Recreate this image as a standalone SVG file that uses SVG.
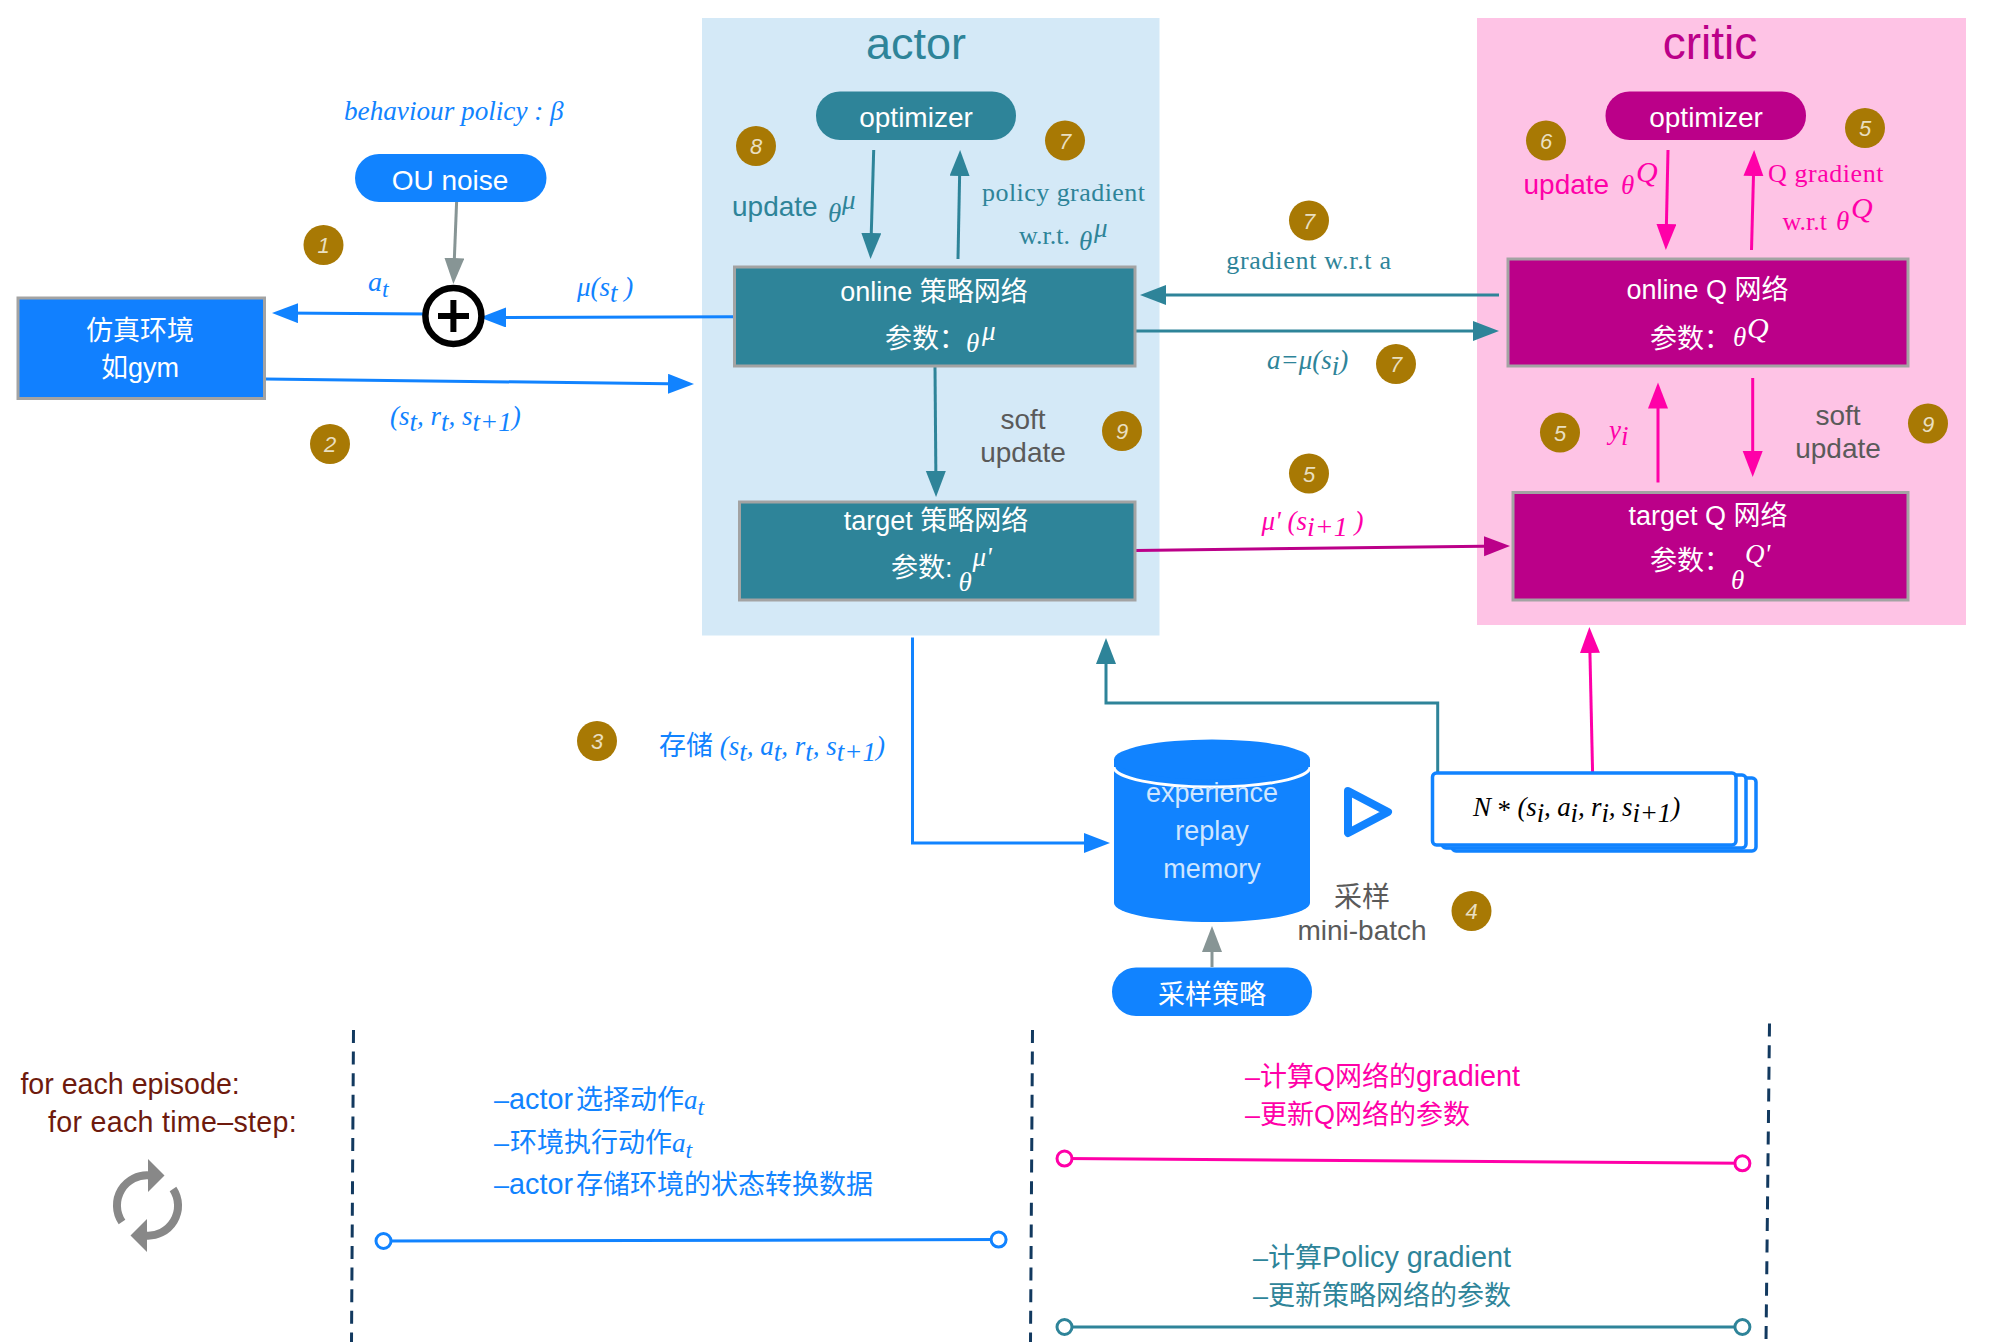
<svg xmlns="http://www.w3.org/2000/svg" width="2012" height="1342" viewBox="0 0 2012 1342">
<style>
text{font-family:"Liberation Sans","Noto Sans CJK SC",sans-serif;font-size:27px}
.m{font-family:"Liberation Serif","Noto Sans CJK SC",serif;font-style:italic;font-size:27px}
.s{font-family:"Liberation Serif","Noto Sans CJK SC",serif;font-size:26px}
.c{text-anchor:middle}
.w{fill:#fff}
.u{font-size:28px}
.la{font-size:28.8px}
.bl{fill:#1183ff}.te{fill:#2e8499}.pk{fill:#ff00a8}.mg{fill:#bb0089}.gy{fill:#5a5a5a}.br{fill:#6e1a0d}
.l{fill:none;stroke-width:3}
.lb{stroke:#1183ff}.lt{stroke:#2e8499}.lp{stroke:#ff00a8}.lm{stroke:#bb0089}.lg{stroke:#879595}
.box{stroke:#a3a3a3;stroke-width:3}
.badge circle{fill:#a87904}
.badge text{fill:#e9dfc0;font-size:22px;font-style:italic;text-anchor:middle}
.dash{fill:none;stroke:#12395f;stroke-width:3;stroke-dasharray:13 8.6}
.dot{fill:#fff;stroke-width:3}
</style>
<defs>
<marker id="ab" markerUnits="userSpaceOnUse" markerWidth="28" markerHeight="22" refX="20" refY="10" orient="auto"><path d="M0 0L26 10L0 20Z" fill="#1183ff"/></marker>
<marker id="at" markerUnits="userSpaceOnUse" markerWidth="28" markerHeight="22" refX="20" refY="10" orient="auto"><path d="M0 0L26 10L0 20Z" fill="#2e8499"/></marker>
<marker id="ap" markerUnits="userSpaceOnUse" markerWidth="28" markerHeight="22" refX="20" refY="10" orient="auto"><path d="M0 0L26 10L0 20Z" fill="#ff00a8"/></marker>
<marker id="am" markerUnits="userSpaceOnUse" markerWidth="28" markerHeight="22" refX="20" refY="10" orient="auto"><path d="M0 0L26 10L0 20Z" fill="#bb0089"/></marker>
<marker id="ag" markerUnits="userSpaceOnUse" markerWidth="28" markerHeight="22" refX="20" refY="10" orient="auto"><path d="M0 0L26 10L0 20Z" fill="#879595"/></marker>
</defs>
<rect width="2012" height="1342" fill="#fff"/>
<g id="actor-panel"><rect x="702" y="18" width="457.5" height="617.5" fill="#d4e9f7"/><text class="c te" x="916" y="59" style="font-size:45px">actor</text></g>
<g id="critic-panel"><rect x="1477" y="18" width="489" height="607" fill="#fec3e5"/><text class="c mg" x="1710" y="59" style="font-size:46px">critic</text></g>

<g id="connectors">
<line class="l lg" x1="456.6" y1="202" x2="453.6" y2="278" marker-end="url(#ag)"/>
<line class="l lb" x1="430" y1="314" x2="278" y2="313" marker-end="url(#ab)"/>
<line class="l lb" x1="733.5" y1="316.7" x2="486" y2="317.5" marker-end="url(#ab)"/>
<line class="l lb" x1="265" y1="379" x2="688" y2="384" marker-end="url(#ab)"/>
<line class="l lt" x1="873.7" y1="150" x2="870.7" y2="253" marker-end="url(#at)"/>
<line class="l lt" x1="958" y1="259" x2="960" y2="156" marker-end="url(#at)"/>
<line class="l lt" x1="935" y1="367" x2="936" y2="491" marker-end="url(#at)"/>
<line class="l lt" x1="1499" y1="295" x2="1146" y2="295" marker-end="url(#at)"/>
<line class="l lt" x1="1136" y1="331" x2="1493" y2="331" marker-end="url(#at)"/>
<line class="l lp" x1="1668" y1="150" x2="1666" y2="244" marker-end="url(#ap)"/>
<line class="l lp" x1="1751.5" y1="250" x2="1754" y2="156" marker-end="url(#ap)"/>
<line class="l lp" x1="1658" y1="482.5" x2="1658" y2="388.5" marker-end="url(#ap)"/>
<line class="l lp" x1="1752.7" y1="378" x2="1752.7" y2="471" marker-end="url(#ap)"/>
<line class="l lm" x1="1136" y1="550.4" x2="1504" y2="546" marker-end="url(#am)"/>
<path class="l lb" d="M912.5 637.6V843H1104" marker-end="url(#ab)"/>
<path class="l lt" d="M1437.7 773V703H1106V644" marker-end="url(#at)"/>
<line class="l lp" x1="1592.6" y1="773" x2="1589.5" y2="633" marker-end="url(#ap)"/>
<line class="l lg" x1="1212" y1="967" x2="1212" y2="932" marker-end="url(#ag)"/>
</g>

<g id="env"><rect class="box" x="18" y="298" width="246.5" height="100.5" fill="#1180ff"/><text class="c w" x="140" y="340">仿真环境</text><text class="c w" x="140" y="377">如gym</text></g>
<g id="ou-noise"><rect x="355" y="154" width="191.5" height="48" rx="24" fill="#1183ff"/><text class="c w" x="450" y="190" style="font-size:28px">OU noise</text></g>
<g id="behaviour-label"><text class="m bl" x="344" y="120" style="font-size:27.2px">behaviour policy : β</text></g>
<g id="sum"><circle cx="453.4" cy="316" r="28" fill="#fff" stroke="#000" stroke-width="6.5"/><path d="M438 316H469M453.4 300V332" stroke="#000" stroke-width="6" fill="none"/></g>
<g id="labels-left">
<text class="m bl" x="368" y="290.6" style="font-size:28px">a<tspan dy="6" style="font-size:24px">t</tspan></text>
<text class="m bl" x="577" y="296">μ(s<tspan dy="6">t</tspan><tspan dy="-6"> )</tspan></text>
<text class="m bl" x="390" y="425">(s<tspan dy="6">t</tspan><tspan dy="-6">, r</tspan><tspan dy="6">t</tspan><tspan dy="-6">, s</tspan><tspan dy="6">t+1</tspan><tspan dy="-6">)</tspan></text>
<text class="m bl" x="659" y="755"><tspan style="font-style:normal">存储</tspan> (s<tspan dy="6">t</tspan><tspan dy="-6">, a</tspan><tspan dy="6">t</tspan><tspan dy="-6">, r</tspan><tspan dy="6">t</tspan><tspan dy="-6">, s</tspan><tspan dy="6">t+1</tspan><tspan dy="-6">)</tspan></text>
</g>

<g id="actor-optimizer"><rect x="816" y="91.5" width="200" height="48.5" rx="24" fill="#2e8499"/><text class="c w" x="916" y="127" style="font-size:28px">optimizer</text></g>
<g id="online-policy"><rect class="box" x="734.5" y="267" width="400.5" height="99" fill="#2e8499"/><text class="c w" x="934" y="301">online 策略网络</text><text class="w" x="885" y="348">参数：</text><text class="m w" x="966" y="352">θ</text><text class="m w" x="982" y="340">μ</text></g>
<g id="target-policy"><rect class="box" x="739.5" y="502" width="395.5" height="98" fill="#2e8499"/><text class="c w" x="936" y="530">target 策略网络</text><text class="w" x="891" y="577">参数:</text><text class="m w" x="958.5" y="591">θ</text><text class="m w" x="972.5" y="566">μ'</text></g>
<g id="actor-labels">
<text class="te u" x="732" y="216">update</text><text class="m te" x="828" y="222">θ</text><text class="m te" x="842" y="209">μ</text>
<text class="s te" x="982" y="201" style="letter-spacing:.45px">policy gradient</text>
<text class="s te" x="1019" y="243.6">w.r.t.</text><text class="m te" x="1079" y="250">θ</text><text class="m te" x="1094" y="237">μ</text>
<text class="c gy u" x="1023" y="428.6">soft</text><text class="c gy u" x="1023" y="462">update</text>
</g>

<g id="link-labels">
<text class="s te c" x="1309" y="269" style="letter-spacing:.7px">gradient w.r.t a</text>
<text class="m te" x="1267" y="369">a=μ(s<tspan dy="6">i</tspan><tspan dy="-6">)</tspan></text>
<text class="m pk" x="1261.5" y="530">μ' (s<tspan dy="6" style="font-size:28px">i+1</tspan><tspan dy="-6"> )</tspan></text>
</g>

<g id="critic-optimizer"><rect x="1605.5" y="91.5" width="200.5" height="48.5" rx="24" fill="#bb0089"/><text class="c w" x="1706" y="127" style="font-size:28px">optimizer</text></g>
<g id="online-q"><rect class="box" x="1508" y="259" width="400" height="107" fill="#bb0089"/><text class="c w" x="1707.5" y="299">online Q 网络</text><text class="w" x="1650" y="348">参数：</text><text class="m w" x="1733" y="346">θ</text><text class="m w" x="1747" y="338" style="font-size:30px">Q</text></g>
<g id="target-q"><rect class="box" x="1513" y="492.5" width="395" height="107.5" fill="#bb0089"/><text class="c w" x="1708" y="525">target Q 网络</text><text class="w" x="1650" y="570">参数：</text><text class="m w" x="1731" y="589">θ</text><text class="m w" x="1745" y="563">Q'</text></g>
<g id="critic-labels">
<text class="pk u" x="1523.5" y="194.4">update</text><text class="m pk" x="1621" y="194">θ</text><text class="m pk" x="1636" y="182" style="font-size:30px">Q</text>
<text class="s pk" x="1768" y="181.6" style="letter-spacing:.55px">Q gradient</text>
<text class="s pk" x="1782.5" y="230">w.r.t</text><text class="m pk" x="1836" y="230">θ</text><text class="m pk" x="1851" y="218" style="font-size:30px">Q</text>
<text class="m pk" x="1609" y="439">y<tspan dy="6">i</tspan></text>
<text class="c gy u" x="1838" y="425">soft</text><text class="c gy u" x="1838" y="458">update</text>
</g>

<g id="replay-memory">
<path d="M1114 759.5V903A98 19 0 0 0 1310 903V759.5Z" fill="#1183ff"/>
<path d="M1114 767A98 20 0 0 0 1310 767" fill="none" stroke="#fff" stroke-width="3"/>
<ellipse cx="1212" cy="759.5" rx="98" ry="20" fill="#1183ff"/>
<text class="c" x="1212" y="802" fill="#cfe6ff" style="font-size:27px">experience</text>
<text class="c" x="1212" y="840" fill="#cfe6ff" style="font-size:27px">replay</text>
<text class="c" x="1212" y="878" fill="#cfe6ff" style="font-size:27px">memory</text>
</g>
<g id="play"><path d="M1348 791L1388 812L1348 833Z" fill="none" stroke="#1183ff" stroke-width="8" stroke-linejoin="round"/></g>
<g id="mini-batch">
<rect x="1452" y="778" width="304" height="73" rx="4" fill="#fff" stroke="#1183ff" stroke-width="3.5"/>
<rect x="1442" y="775" width="304" height="73" rx="4" fill="#fff" stroke="#1183ff" stroke-width="3.5"/>
<rect x="1432.5" y="773" width="303.5" height="72" rx="4" fill="#fff" stroke="#1183ff" stroke-width="3.5"/>
<text class="m" x="1473" y="816" fill="#000" style="letter-spacing:-.15px">N <tspan dy="3" style="font-family:'Liberation Serif';font-style:normal">*</tspan><tspan dy="-3"> (s</tspan><tspan dy="6">i</tspan><tspan dy="-6">, a</tspan><tspan dy="6">i</tspan><tspan dy="-6">, r</tspan><tspan dy="6">i</tspan><tspan dy="-6">, s</tspan><tspan dy="6">i+1</tspan><tspan dy="-6">)</tspan></text>
</g>
<g id="sample-label"><text class="c gy u" x="1362" y="907">采样</text><text class="c gy u" x="1362" y="940">mini-batch</text></g>
<g id="sample-policy"><rect x="1112" y="967.5" width="200" height="48.5" rx="24" fill="#1183ff"/><text class="c w" x="1212" y="1003.5">采样策略</text></g>

<g id="badges">
<g class="badge"><circle cx="323.5" cy="245" r="20"/><text x="323.5" y="253">1</text></g>
<g class="badge"><circle cx="330" cy="444" r="20"/><text x="330" y="452">2</text></g>
<g class="badge"><circle cx="597" cy="741" r="20"/><text x="597" y="749">3</text></g>
<g class="badge"><circle cx="1471.5" cy="911" r="20"/><text x="1471.5" y="919">4</text></g>
<g class="badge"><circle cx="1865" cy="128" r="20"/><text x="1865" y="136">5</text></g>
<g class="badge"><circle cx="1560" cy="432.5" r="20"/><text x="1560" y="440.5">5</text></g>
<g class="badge"><circle cx="1309" cy="473.5" r="20"/><text x="1309" y="481.5">5</text></g>
<g class="badge"><circle cx="1546" cy="140.6" r="20"/><text x="1546" y="148.6">6</text></g>
<g class="badge"><circle cx="1065" cy="140.6" r="20"/><text x="1065" y="148.6">7</text></g>
<g class="badge"><circle cx="1309" cy="220.5" r="20"/><text x="1309" y="228.5">7</text></g>
<g class="badge"><circle cx="1396" cy="364" r="20"/><text x="1396" y="372">7</text></g>
<g class="badge"><circle cx="756" cy="146" r="20"/><text x="756" y="154">8</text></g>
<g class="badge"><circle cx="1122" cy="431" r="20"/><text x="1122" y="439">9</text></g>
<g class="badge"><circle cx="1928" cy="423.5" r="20"/><text x="1928" y="431.5">9</text></g>
</g>

<g id="timeline">
<path class="dash" d="M353.5 1030L351.5 1342"/>
<path class="dash" d="M1032.5 1030L1030.5 1342"/>
<path class="dash" d="M1769.5 1023.6L1766 1342"/>
<line class="l lb" x1="383.5" y1="1241" x2="998.6" y2="1239.6"/><circle class="dot lb" cx="383.5" cy="1241" r="7.5"/><circle class="dot lb" cx="998.6" cy="1239.6" r="7.5"/>
<line class="l lp" x1="1064.5" y1="1158.6" x2="1742.4" y2="1163.3"/><circle class="dot lp" cx="1064.5" cy="1158.6" r="7.5"/><circle class="dot lp" cx="1742.4" cy="1163.3" r="7.5"/>
<line class="l lt" x1="1064.5" y1="1327" x2="1742.4" y2="1327"/><circle class="dot lt" cx="1064.5" cy="1327" r="7.5"/><circle class="dot lt" cx="1742.4" cy="1327" r="7.5"/>
</g>
<g id="loop-text">
<text class="br" x="20.4" y="1094" style="font-size:28.6px">for each episode:</text>
<text class="br" x="48" y="1132" style="font-size:28.6px;letter-spacing:.3px">for each time–step:</text>
</g>
<g id="loop-icon">
<path d="M122 1222A30 30 0 0 1 150 1175.5M173 1189A30 30 0 0 1 145 1235.5" fill="none" stroke="#888" stroke-width="8"/>
<path d="M148 1159L164.5 1175.5L148 1192ZM147 1219L130.5 1235.5L147 1252Z" fill="#888"/>
</g>
<g id="step-blue">
<text class="bl" x="494" y="1109">–<tspan class="la">actor</tspan><tspan x="576">选择动作</tspan><tspan class="m">a</tspan><tspan class="m" dy="6" style="font-size:24px">t</tspan></text>
<text class="bl" x="494" y="1152">–<tspan x="510">环境执行动作</tspan><tspan class="m">a</tspan><tspan class="m" dy="6" style="font-size:24px">t</tspan></text>
<text class="bl" x="494" y="1194">–<tspan class="la">actor</tspan><tspan x="576">存储环境的状态转换数据</tspan></text>
</g>
<g id="step-pink">
<text class="pk" x="1245" y="1086">–计算Q网络的<tspan class="la">gradient</tspan></text>
<text class="pk" x="1245" y="1123.5">–更新Q网络的参数</text>
</g>
<g id="step-teal">
<text class="te" x="1253" y="1267">–计算<tspan class="la">Policy gradient</tspan></text>
<text class="te" x="1253" y="1305">–更新策略网络的参数</text>
</g>
</svg>
